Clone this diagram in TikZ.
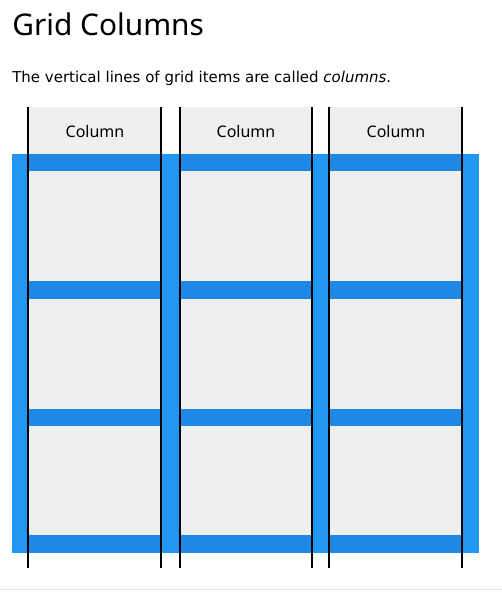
\documentclass[tikz,border=0pt]{standalone}
\usepackage{fontspec}
\setmainfont{Noto Sans}
\newfontfamily\parafont{DejaVu Sans}
\definecolor{contblue}{HTML}{2196F3}
\definecolor{bandblue}{HTML}{1E88E5}
\definecolor{cellgrey}{HTML}{EFEFEF}
\definecolor{rulegrey}{HTML}{E6E6E6}
\begin{document}
\begin{tikzpicture}[x=0.75pt,y=-0.75pt,
  cell/.style={fill=cellgrey},
  band/.style={fill=bandblue},
  colline/.style={line width=1.5pt,black},
  coltext/.style={font=\fontsize{12pt}{14pt}\selectfont,anchor=base,inner sep=0pt}]
\useasboundingbox (0,0) rectangle (502,602);
% container
\fill[contblue] (12,154) rectangle (479,553);
\foreach \a/\b in {28/161,180/312,329/462}{
  \fill[cell] (\a,107) rectangle (\b,154);
  \fill[cell] (\a,171) rectangle (\b,281);
  \fill[cell] (\a,299) rectangle (\b,409);
  \fill[cell] (\a,426) rectangle (\b,535);
  \fill[band] (\a,154) rectangle (\b,171);
  \fill[band] (\a,281) rectangle (\b,299);
  \fill[band] (\a,409) rectangle (\b,426);
  \fill[band] (\a,535) rectangle (\b,553);
}
\foreach \x in {28,161,180,312,329,462}{
  \draw[colline] (\x,107) -- (\x,568);
}
\draw[rulegrey,line width=0.75pt] (0,589) -- (502,589);
% texts
\node[anchor=base west,inner sep=0pt,font=\fontsize{22.4pt}{26pt}\selectfont] (title) at (12,36) {Grid Columns};
\node[anchor=base west,inner sep=0pt,font=\parafont\fontsize{11.25pt}{13pt}\selectfont] (para) at (12,83) {The vertical lines of grid items are called \textit{columns}.};
\node[coltext] (c1) at (95,137.5) {Column};
\node[coltext] (c2) at (246,137.5) {Column};
\node[coltext] (c3) at (396,137.5) {Column};
\end{tikzpicture}
\end{document}
